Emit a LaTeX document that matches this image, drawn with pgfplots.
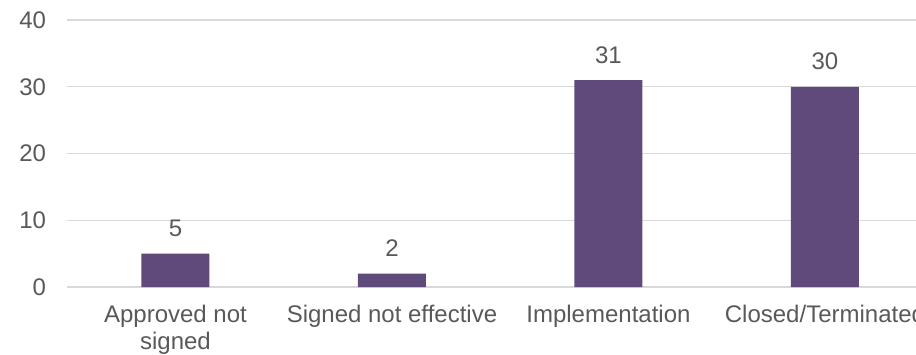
\documentclass[border=0pt]{standalone}
\usepackage{pgfplots}
\pgfplotsset{compat=1.18}
\usepackage{fontspec}
\setmainfont{Liberation Sans}
\definecolor{barpurple}{HTML}{604A7B}
\definecolor{gridgrey}{HTML}{D9D9D9}
\definecolor{txtgrey}{HTML}{595959}
\begin{document}
\begin{tikzpicture}[x=1pt,y=1pt]
\path[use as bounding box] (0,0) rectangle (916,354);
\clip (0,0) rectangle (916,354);
\begin{axis}[
  at={(67.2pt,67pt)}, anchor=south west,
  scale only axis, width=866pt, height=267pt,
  xmin=-0.5, xmax=3.5, ymin=0, ymax=40,
  ytick={0,10,20,30,40},
  xtick={0,1,2,3},
  xticklabels={{Approved not\\signed},{Signed not effective},{Implementation},{Closed/Terminated}},
  /pgf/number format/assume math mode=true,
  axis line style={draw=none},
  major tick length=0pt,
  ymajorgrids, grid style={gridgrey, line width=1.4pt},
  yticklabel style={font=\fontsize{24}{27}\selectfont, text=txtgrey, anchor=east, inner sep=0pt, xshift=-21pt},
  xticklabel style={font=\fontsize{24}{27}\selectfont, text=txtgrey, anchor=north, inner sep=0pt, yshift=-18pt, align=center},
  ybar, bar width=68pt,
  nodes near coords,
  every node near coord/.append style={font=\fontsize{24}{27}\selectfont, text=txtgrey, anchor=base, inner sep=0pt, yshift=17pt},
  clip=false,
]
\addplot[fill=barpurple, draw=none] coordinates {(0,5) (1,2) (2,31) (3,30)};
\end{axis}
\end{tikzpicture}
\end{document}
